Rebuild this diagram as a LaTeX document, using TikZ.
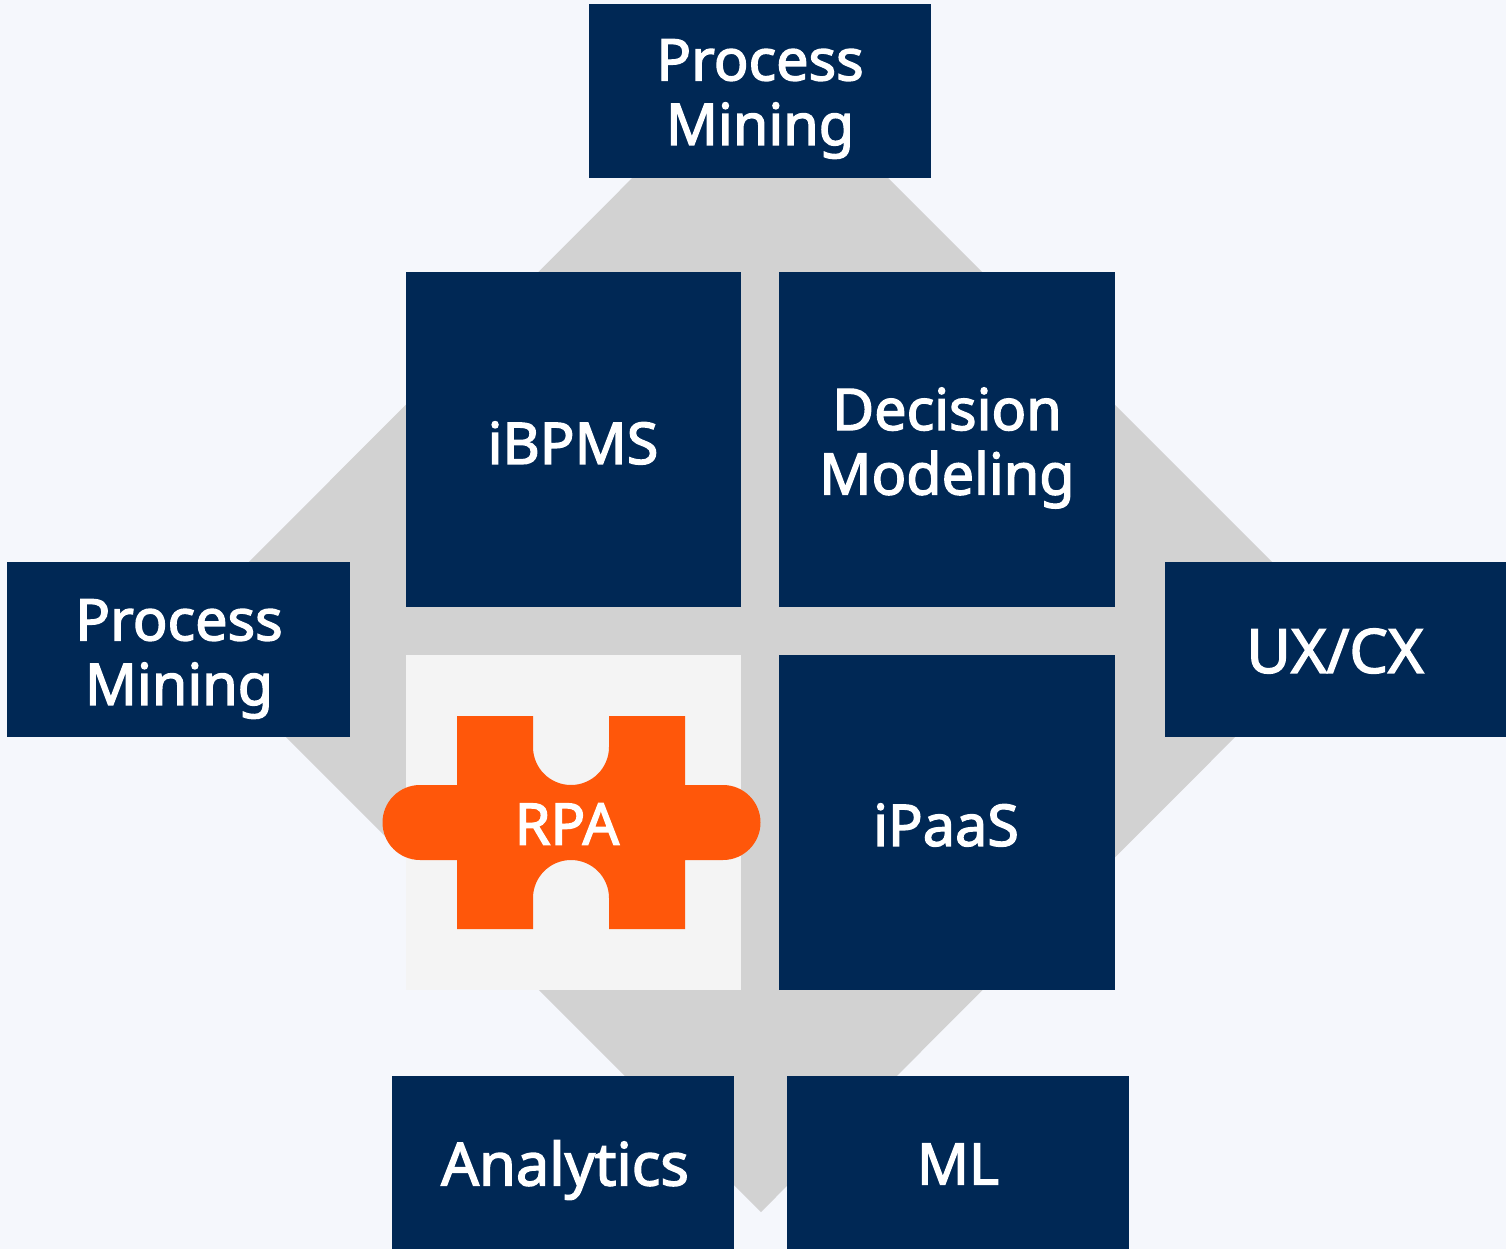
\documentclass[tikz,border=0pt]{standalone}
\usepackage{fontspec}
\setmainfont{Noto Sans}[BoldFont={Noto Sans},BoldFeatures={FakeBold=2.4}]
\definecolor{bgc}{HTML}{F5F7FC}
\definecolor{navy}{HTML}{002855}
\definecolor{diam}{HTML}{D2D2D2}
\definecolor{pale}{HTML}{F4F4F4}
\definecolor{orng}{HTML}{FF570A}
\tikzset{
  x=1pt,y=-1pt,
  lbl/.style={text=white,align=center,font=\fontsize{57.5}{64.5}\selectfont\bfseries},
  boxa/.style={fill=navy,draw=none},
}
\begin{document}
\begin{tikzpicture}
\useasboundingbox (0,0) rectangle (1506,1249);
\fill[bgc] (0,0) rectangle (1506,1249);
\coordinate (dt) at (760,50);
\coordinate (dr) at (1341,631);
\coordinate (db) at (761,1212);
\coordinate (dl) at (180,631);
\fill[diam] (dt) -- (dr) -- (db) -- (dl) -- cycle;
\fill[boxa] (589,4) rectangle (931,178);
\node[lbl] (pm1) at (760,99) {Process\\Mining};
\fill[boxa] (406,272) rectangle (741,607);
\node[lbl] (ibpms) at (573,443) {iBPMS};
\fill[boxa] (779,272) rectangle (1115,607);
\node[lbl] (dm) at (947,448) {Decision\\Modeling};
\fill[boxa] (7,562) rectangle (350,737);
\node[lbl] (pm2) at (179,659) {Process\\Mining};
\fill[boxa] (1165,562) rectangle (1506,737);
\node[lbl,font=\fontsize{61}{64.5}\selectfont\bfseries] (ux) at (1335,651) {UX/CX};
\fill[pale] (406,655) rectangle (741,990);
\fill[orng] (457,716) -- (533,716) -- (533,747) arc[start angle=180,end angle=0,radius=38] -- (609,716) -- (685,716) -- (685,785) -- (723,785) arc[start angle=-90,end angle=90,radius=37.5] -- (685,860) -- (685,929) -- (609,929) -- (609,898) arc[start angle=0,end angle=-180,radius=38] -- (533,929) -- (457,929) -- (457,860) -- (420,860) arc[start angle=90,end angle=270,radius=37.5] -- (457,785) -- cycle;
\node[lbl] (rpa) at (567,824) {RPA};
\fill[boxa] (779,655) rectangle (1115,990);
\node[lbl] (ipaas) at (946,825) {iPaaS};
\fill[boxa] (392,1076) rectangle (734,1249);
\node[lbl,font=\fontsize{59.5}{64.5}\selectfont\bfseries] (an) at (565,1170) {Analytics};
\fill[boxa] (787,1076) rectangle (1129,1249);
\node[lbl] (ml) at (958,1164) {ML};
\end{tikzpicture}
\end{document}
